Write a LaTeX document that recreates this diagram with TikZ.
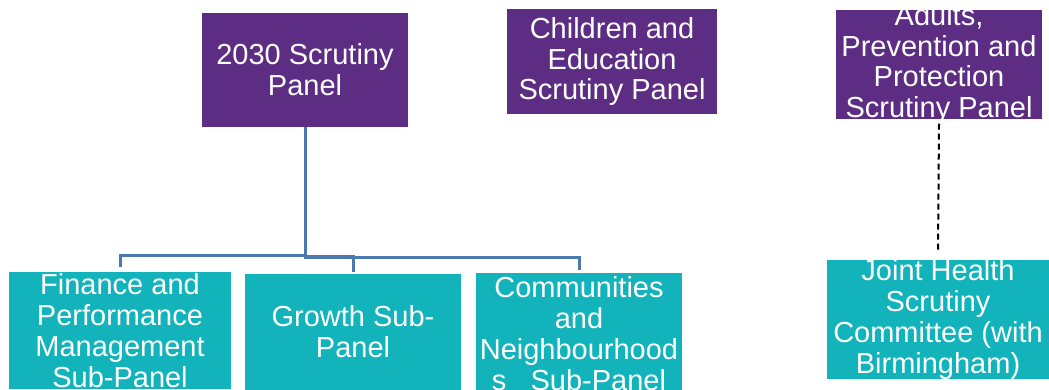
\documentclass[tikz,border=0pt]{standalone}
\usepackage{fontspec}
\setmainfont{Liberation Sans}
\definecolor{purp}{RGB}{92,45,131}
\definecolor{teal2}{RGB}{18,179,186}
\definecolor{connblue}{RGB}{74,122,176}
\begin{document}
\begin{tikzpicture}[x=1pt,y=-1pt,
  box/.style={rectangle,inner sep=0pt,outer sep=0pt,text=white,align=center,
    font=\fontsize{29}{30.8}\selectfont},
  topbox/.style={box,fill=purp},
  subbox/.style={box,fill=teal2},
  conn/.style={draw=connblue,line width=3pt},
  dashconn/.style={draw=black,line width=2pt,dash pattern=on 6pt off 4pt}]
\clip (0,0) rectangle (1049,389);
\useasboundingbox (0,0) rectangle (1049,389);
\fill[white] (0,0) rectangle (1049,389);
% top row
\node[topbox,minimum width=206pt,minimum height=114pt] (p2030) at (305,70) {2030 Scrutiny\\Panel};
\node[topbox,minimum width=210pt,minimum height=105pt] (child) at (612,61.5) {Children and\\Education\\Scrutiny Panel};
\begin{scope}
\clip (836,10) rectangle (1042,118);
\node[topbox,minimum width=206pt,minimum height=108pt] (adult) at (939,64) {Adults,\\Prevention and\\Protection\\Scrutiny Panel};
\end{scope}
% bottom row
\node[subbox,minimum width=222pt,minimum height=117pt] (fin) at (120,330.5) {Finance and\\Performance\\Management\\Sub-Panel};
\node[subbox,minimum width=216pt,minimum height=117pt] (grow) at (353,332) {Growth Sub-\\Panel};
\node[subbox,minimum width=206pt,minimum height=121pt] (comm) at (579,333.5) {Communities\\and\\Neighbourhood\\s~~~Sub-Panel};
\node[subbox,minimum width=222pt,minimum height=115pt] (joint) at (938,319.5) {Joint Health\\Scrutiny\\Committee (with\\Birmingham)};
% connectors
\draw[conn] (p2030.south) -- ++(0,128) -| ([yshift=5pt]fin.north);
\draw[conn] (p2030.south) ++(0,129.5) -| ([yshift=2pt]grow.north);
\draw[conn] (p2030.south) ++(-1.5,130) -| ([yshift=3pt]comm.north);
\draw[dashconn] (adult.south) -- ([yshift=7pt]joint.north);
\end{tikzpicture}
\end{document}
